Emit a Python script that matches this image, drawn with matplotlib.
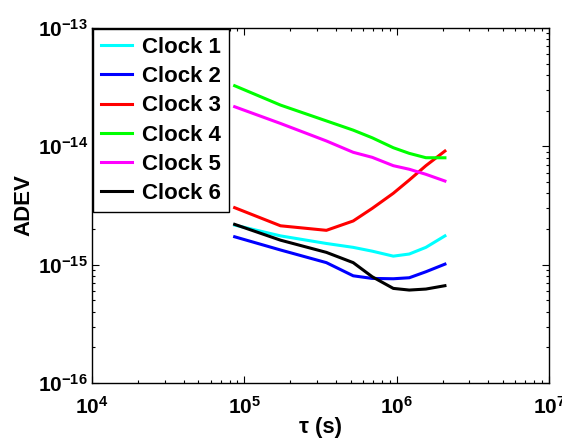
import numpy as np
import matplotlib
matplotlib.use('Agg')
import matplotlib.pyplot as plt
from matplotlib import rc

rc('font', family='Liberation Sans', weight='bold', size=15)
rc('axes', labelweight='bold', labelsize=16, unicode_minus=False)
rc('mathtext', fontset='custom', rm='Liberation Sans:bold', bf='Liberation Sans:bold', default='bf')

# averaging times in days, converted to seconds
days = np.array([1, 2, 4, 6, 8, 11, 14, 18, 24])
tau = days * 86400.0

clock1 = [2.16e-15, 1.75e-15, 1.51e-15, 1.40e-15, 1.30e-15, 1.18e-15, 1.23e-15, 1.40e-15, 1.75e-15]
clock2 = [1.72e-15, 1.33e-15, 1.04e-15, 8.05e-16, 7.65e-16, 7.60e-16, 7.75e-16, 8.71e-16, 1.01e-15]
clock3 = [3.03e-15, 2.13e-15, 1.95e-15, 2.34e-15, 2.99e-15, 4.01e-15, 5.19e-15, 6.86e-15, 9.12e-15]
clock4 = [3.25e-14, 2.23e-14, 1.64e-14, 1.37e-14, 1.18e-14, 9.73e-15, 8.72e-15, 8.01e-15, 8.00e-15]
clock5 = [2.16e-14, 1.56e-14, 1.11e-14, 8.90e-15, 8.07e-15, 6.86e-15, 6.40e-15, 5.80e-15, 5.09e-15]
clock6 = [2.19e-15, 1.61e-15, 1.27e-15, 1.04e-15, 7.90e-16, 6.30e-16, 6.10e-16, 6.22e-16, 6.64e-16]

labels = ['Clock 1', 'Clock 2', 'Clock 3', 'Clock 4', 'Clock 5', 'Clock 6']
colors = ['#00ffff', '#0000ff', '#ff0000', '#00ff00', '#ff00ff', '#000000']
series = [clock1, clock2, clock3, clock4, clock5, clock6]

fig = plt.figure(figsize=(5.62, 4.42), dpi=100)
ax = fig.add_axes([0.1637, 0.1335, 0.8132, 0.8032])

for y, c, lab in zip(series, colors, labels):
    ax.loglog(tau, y, color=c, lw=2.2, label=lab)

ax.set_xlim(1e4, 1e7)
ax.set_ylim(1e-16, 1e-13)
ax.tick_params(which='both', direction='in', top=True, right=True, width=0.8)
ax.tick_params(which='major', length=5)
ax.tick_params(which='minor', length=2.5)
ax.tick_params(axis='x', which='major', pad=9)
ax.tick_params(axis='y', which='major', pad=3)
for s in ax.spines.values():
    s.set_linewidth(1.0)

ax.set_xlabel('τ (s)', labelpad=0)
ax.set_ylabel('ADEV', labelpad=2)

leg = ax.legend(loc='upper left', borderaxespad=0.05, fancybox=False,
                edgecolor='k', framealpha=1, fontsize=16, handlelength=1.4,
                handletextpad=0.45, labelspacing=0.37, borderpad=0.35)
leg.get_frame().set_linewidth(1.0)

fig.savefig('out.png', dpi=100)
